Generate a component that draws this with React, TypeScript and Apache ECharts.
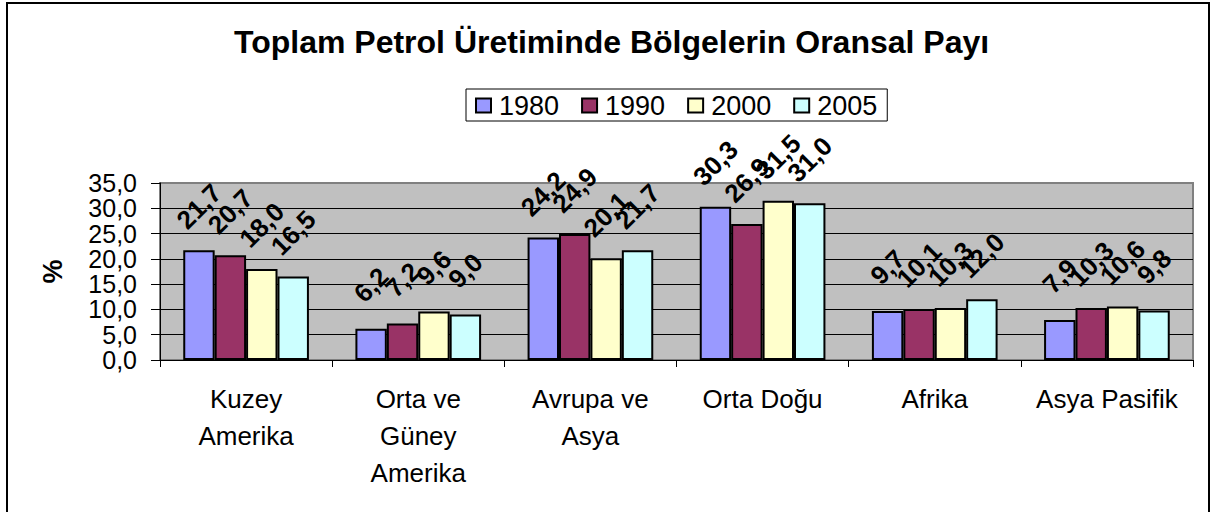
import React, { useEffect, useRef } from 'react';
import * as echarts from 'echarts';

const categories = ['Kuzey\nAmerika', 'Orta ve\nGüney\nAmerika', 'Avrupa ve\nAsya', 'Orta Doğu', 'Afrika', 'Asya Pasifik'];
const seriesNames = ['1980', '1990', '2000', '2005'];
const values1980 = [21.7, 6.2, 24.2, 30.3, 9.7, 7.9];
const values1990 = [20.7, 7.2, 24.9, 26.9, 10.1, 10.3];
const values2000 = [18.0, 9.6, 20.1, 31.5, 10.3, 10.6];
const values2005 = [16.5, 9.0, 21.7, 31.0, 12.0, 9.8];
const seriesValues = [values1980, values1990, values2000, values2005];
const colors = ['#9999FF', '#993366', '#FFFFCC', '#CCFFFF'];
const yMin = 0;
const yMax = 35;
const yInterval = 5;

const FONT = '"Liberation Sans", Arial, sans-serif';
const fmt = (v: number) => v.toFixed(1).replace('.', ',');

export default function App() {
  const ref = useRef<HTMLDivElement>(null);
  useEffect(() => {
    if (!ref.current) return;
    const chart = echarts.init(ref.current, undefined, { renderer: 'svg' });
    chart.setOption({
      animation: false,
      backgroundColor: '#ffffff',
      textStyle: { fontFamily: FONT },
      title: {
        text: 'Toplam Petrol Üretiminde Bölgelerin Oransal Payı',
        left: 229,
        top: 21,
        textStyle: { fontFamily: FONT, fontWeight: 'bold', fontSize: 32, color: '#000' },
      },
      legend: {
        data: seriesNames,
        left: 466,
        top: 89,
        itemWidth: 15,
        itemHeight: 14,
        itemGap: 22,
        padding: [3, 10, 2, 9],
        borderColor: '#000',
        borderWidth: 1,
        icon: 'rect',
        textStyle: { fontFamily: FONT, fontSize: 27, color: '#000', padding: [0, 0, 0, 3] },
      },
      graphic: [
        {
          type: 'rect',
          shape: { x: 7, y: 3, width: 1202, height: 520 },
          style: { fill: 'none', stroke: '#000', lineWidth: 2 },
          silent: true,
          z: 100,
        },
      ],
      grid: {
        left: 160,
        right: 22,
        top: 183,
        bottom: 152,
        show: true,
        backgroundColor: '#C0C0C0',
        borderColor: '#808080',
        borderWidth: 2,
        containLabel: false,
        outerBoundsMode: 'none',
      },
      xAxis: {
        type: 'category',
        data: categories,
        axisLine: { show: true, lineStyle: { color: '#000', width: 1 } },
        axisTick: { show: true, length: 7, lineStyle: { color: '#000' } },
        axisLabel: {
          interval: 0,
          fontFamily: FONT,
          fontSize: 26,
          lineHeight: 37,
          color: '#000',
          margin: 20,
        },
        splitLine: { show: false },
      },
      yAxis: {
        type: 'value',
        min: yMin,
        max: yMax,
        interval: yInterval,
        name: '%',
        nameLocation: 'middle',
        nameRotate: 90,
        nameGap: 94,
        nameTextStyle: { fontFamily: FONT, fontWeight: 'bold', fontSize: 27, color: '#000' },
        axisLine: { show: true, lineStyle: { color: '#000', width: 1 } },
        axisTick: { show: true, length: 9, lineStyle: { color: '#000' } },
        axisLabel: {
          formatter: (v: number) => fmt(v),
          fontFamily: FONT,
          fontSize: 25,
          lineHeight: 25,
          color: '#000',
          margin: 23,
          showMinLabel: true,
          showMaxLabel: true,
          hideOverlap: false,
        },
        splitLine: { show: true, showMaxLine: false, showMinLine: false, lineStyle: { color: '#000', width: 1 } },
      },
      series: seriesNames.map((name, i) => ({
        name,
        type: 'bar',
        data: seriesValues[i],
        barGap: '0%',
        barCategoryGap: '27%',
        itemStyle: { color: colors[i], borderColor: '#000', borderWidth: 2 },
        label: {
          show: true,
          position: 'top',
          distance: 0,
          rotate: 45,
          align: 'center',
          verticalAlign: 'middle',
          offset: [31, -31],
          formatter: (p: any) => fmt(p.value),
          fontFamily: FONT,
          fontWeight: 'bold',
          fontSize: 26,
          color: '#000',
        },
      })),
    });
    return () => chart.dispose();
  }, []);
  return (
    <div
      ref={ref}
      style={{ position: 'fixed', left: 0, top: 0, width: 1215, height: 512 }}
    />
  );
}
